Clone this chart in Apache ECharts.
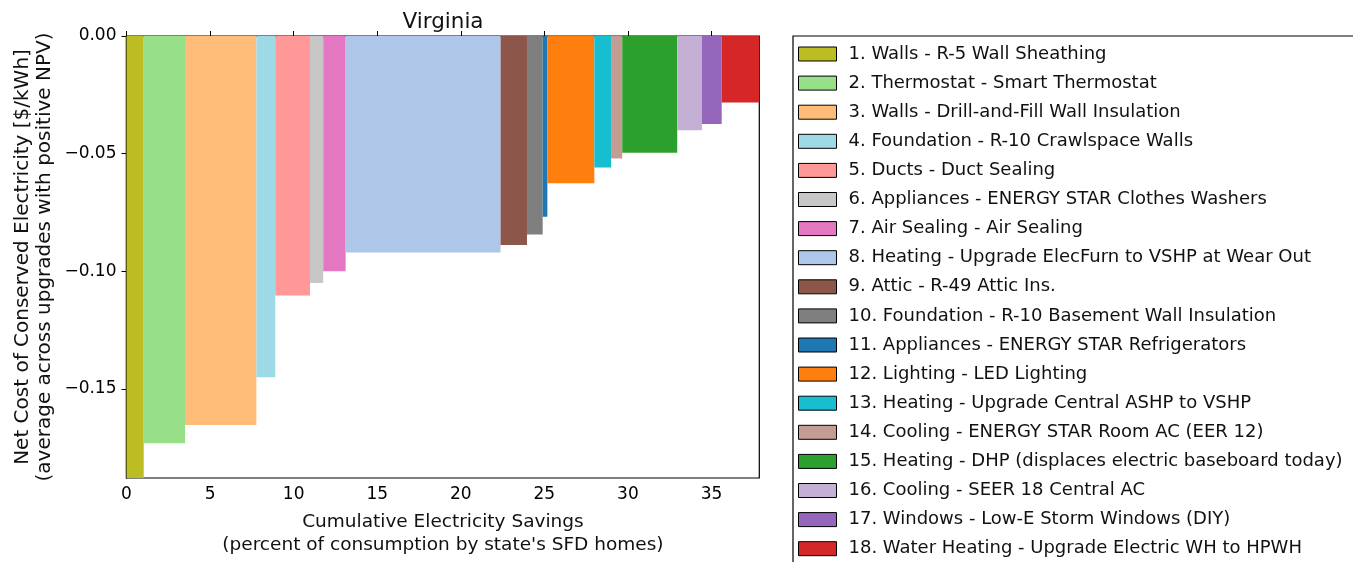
<!DOCTYPE html>
<html>
<head>
<meta charset="utf-8">
<script src="https://cdn.jsdelivr.net/npm/echarts@6/dist/echarts.min.js"></script>
<style>html,body{margin:0;padding:0;background:#fff}#c{width:1353px;height:562px}</style>
</head>
<body>
<div id="c"></div>
<script>
// Upgrade names (legend order = plotting order)
const upgrades = [
  "1. Walls - R-5 Wall Sheathing",
  "2. Thermostat - Smart Thermostat",
  "3. Walls - Drill-and-Fill Wall Insulation",
  "4. Foundation - R-10 Crawlspace Walls",
  "5. Ducts - Duct Sealing",
  "6. Appliances - ENERGY STAR Clothes Washers",
  "7. Air Sealing - Air Sealing",
  "8. Heating - Upgrade ElecFurn to VSHP at Wear Out",
  "9. Attic - R-49 Attic Ins.",
  "10. Foundation - R-10 Basement Wall Insulation",
  "11. Appliances - ENERGY STAR Refrigerators",
  "12. Lighting - LED Lighting",
  "13. Heating - Upgrade Central ASHP to VSHP",
  "14. Cooling - ENERGY STAR Room AC (EER 12)",
  "15. Heating - DHP (displaces electric baseboard today)",
  "16. Cooling - SEER 18 Central AC",
  "17. Windows - Low-E Storm Windows (DIY)",
  "18. Water Heating - Upgrade Electric WH to HPWH"
];
// Electricity savings of each upgrade (percent of consumption) = bar width
const savings = [1.03, 2.47, 4.27, 1.13, 2.08, 0.79, 1.34, 9.27, 1.58, 0.94, 0.28, 2.81, 1.00, 0.67, 3.29, 1.48, 1.18, 2.25];
// Net cost of conserved electricity ($/kWh) = bar height
const costs = [-0.1878, -0.1730, -0.1653, -0.1450, -0.1103, -0.1050, -0.1000, -0.0920, -0.0888, -0.0843, -0.0768, -0.0626, -0.0559, -0.0520, -0.0496, -0.0400, -0.0374, -0.0283];
const xTicks = [0, 5, 10, 15, 20, 25, 30, 35];
const yTicks = [0, -0.05, -0.10, -0.15];

const colors = ['#bcbd22','#98df8a','#ffbb78','#9edae5','#ff9896','#c7c7c7','#e377c2','#aec7e8','#8c564b','#7f7f7f','#1f77b4','#ff7f0e','#17becf','#c49c94','#2ca02c','#c5b0d5','#9467bd','#d62728'];

const FONT = 'DejaVu Sans';
let cum = 0;
const series = upgrades.map((name, i) => {
  const start = cum; cum += savings[i];
  return {
    type: 'custom', name: name, xAxisIndex: 0, yAxisIndex: 0,
    itemStyle: {color: colors[i]},
    encode: {x: [0, 1], y: 2},
    data: [[start, cum, costs[i]]],
    renderItem: function (params, api) {
      const p0 = api.coord([api.value(0), 0]);
      const p1 = api.coord([api.value(1), api.value(2)]);
      return {type: 'rect', shape: {x: p0[0], y: p0[1], width: p1[0] - p0[0], height: p1[1] - p0[1]},
        style: {fill: api.visual('color')}};
    }
  };
});
const xMax = cum;
const yMin = Math.min(...costs);
const fmtY = v => (v < 0 ? '\u2212' : '') + Math.abs(v).toFixed(2);

const chart = echarts.init(document.getElementById('c'), null, {renderer: 'canvas'});
chart.setOption({
  animation: false,
  color: colors,
  title: {text: 'Virginia', left: 443, textAlign: 'center', top: 6,
    textStyle: {fontFamily: FONT, fontSize: 21.5, fontWeight: 'normal', color: '#111'}},
  grid: {left: 126.5, right: 1353 - 759.3, top: 36, bottom: 562 - 478, show: true,
    borderColor: '#000', borderWidth: 1.2, outerBoundsMode: 'none', containLabel: false},
  legend: {
    orient: 'vertical', left: 793, top: 36, height: 620, padding: [8, 60, 8, 5],
    borderColor: '#000', borderWidth: 1.2, borderRadius: 0,
    itemWidth: 38, itemHeight: 14, itemGap: 9.1, icon: 'rect', selectedMode: false,
    itemStyle: {borderColor: '#000', borderWidth: 1},
    textStyle: {fontFamily: FONT, fontSize: 18, color: '#111', lineHeight: 20, padding: [0, 0, 0, 7]},
    data: upgrades
  },
  xAxis: [{
    type: 'value', min: 0, max: xMax, position: 'bottom',
    name: 'Cumulative Electricity Savings\n(percent of consumption by state\'s SFD homes)',
    nameLocation: 'middle', nameGap: 33, nameTextStyle: {fontFamily: FONT, fontSize: 18.5, color: '#111', lineHeight: 23, verticalAlign: 'top'},
    axisLine: {show: true, lineStyle: {color: '#000', width: 1.2}},
    axisTick: {show: true, inside: true, length: 5, customValues: xTicks, lineStyle: {color: '#000'}},
    axisLabel: {customValues: xTicks, fontFamily: FONT, fontSize: 17, color: '#000', margin: 8},
    splitLine: {show: false}
  }, {
    type: 'value', min: 0, max: xMax, position: 'top',
    axisLine: {show: true, lineStyle: {color: '#000', width: 1.2}},
    axisTick: {show: true, inside: true, length: 5, customValues: xTicks, lineStyle: {color: '#000'}},
    axisLabel: {show: false}, splitLine: {show: false}
  }],
  yAxis: [{
    type: 'value', min: yMin, max: 0, position: 'left',
    name: 'Net Cost of Conserved Electricity [$/kWh]\n(average across upgrades with positive NPV)',
    nameLocation: 'middle', nameRotate: 90, nameGap: 71,
    nameTextStyle: {fontFamily: FONT, fontSize: 20, color: '#111', lineHeight: 22},
    axisLine: {show: true, lineStyle: {color: '#000', width: 1.2}},
    axisTick: {show: true, inside: true, length: 5, customValues: yTicks, lineStyle: {color: '#000'}},
    axisLabel: {customValues: yTicks, formatter: fmtY, fontFamily: FONT, fontSize: 17, color: '#000', margin: 10},
    splitLine: {show: false}
  }, {
    type: 'value', min: yMin, max: 0, position: 'right',
    axisLine: {show: true, lineStyle: {color: '#000', width: 1.2}},
    axisTick: {show: true, inside: true, length: 5, customValues: yTicks, lineStyle: {color: '#000'}},
    axisLabel: {show: false}, splitLine: {show: false}
  }],
  series: series
});
// nudge title a few px left to match the reference centring
chart.setOption({title: {left: 438}});
</script>
</body>
</html>
